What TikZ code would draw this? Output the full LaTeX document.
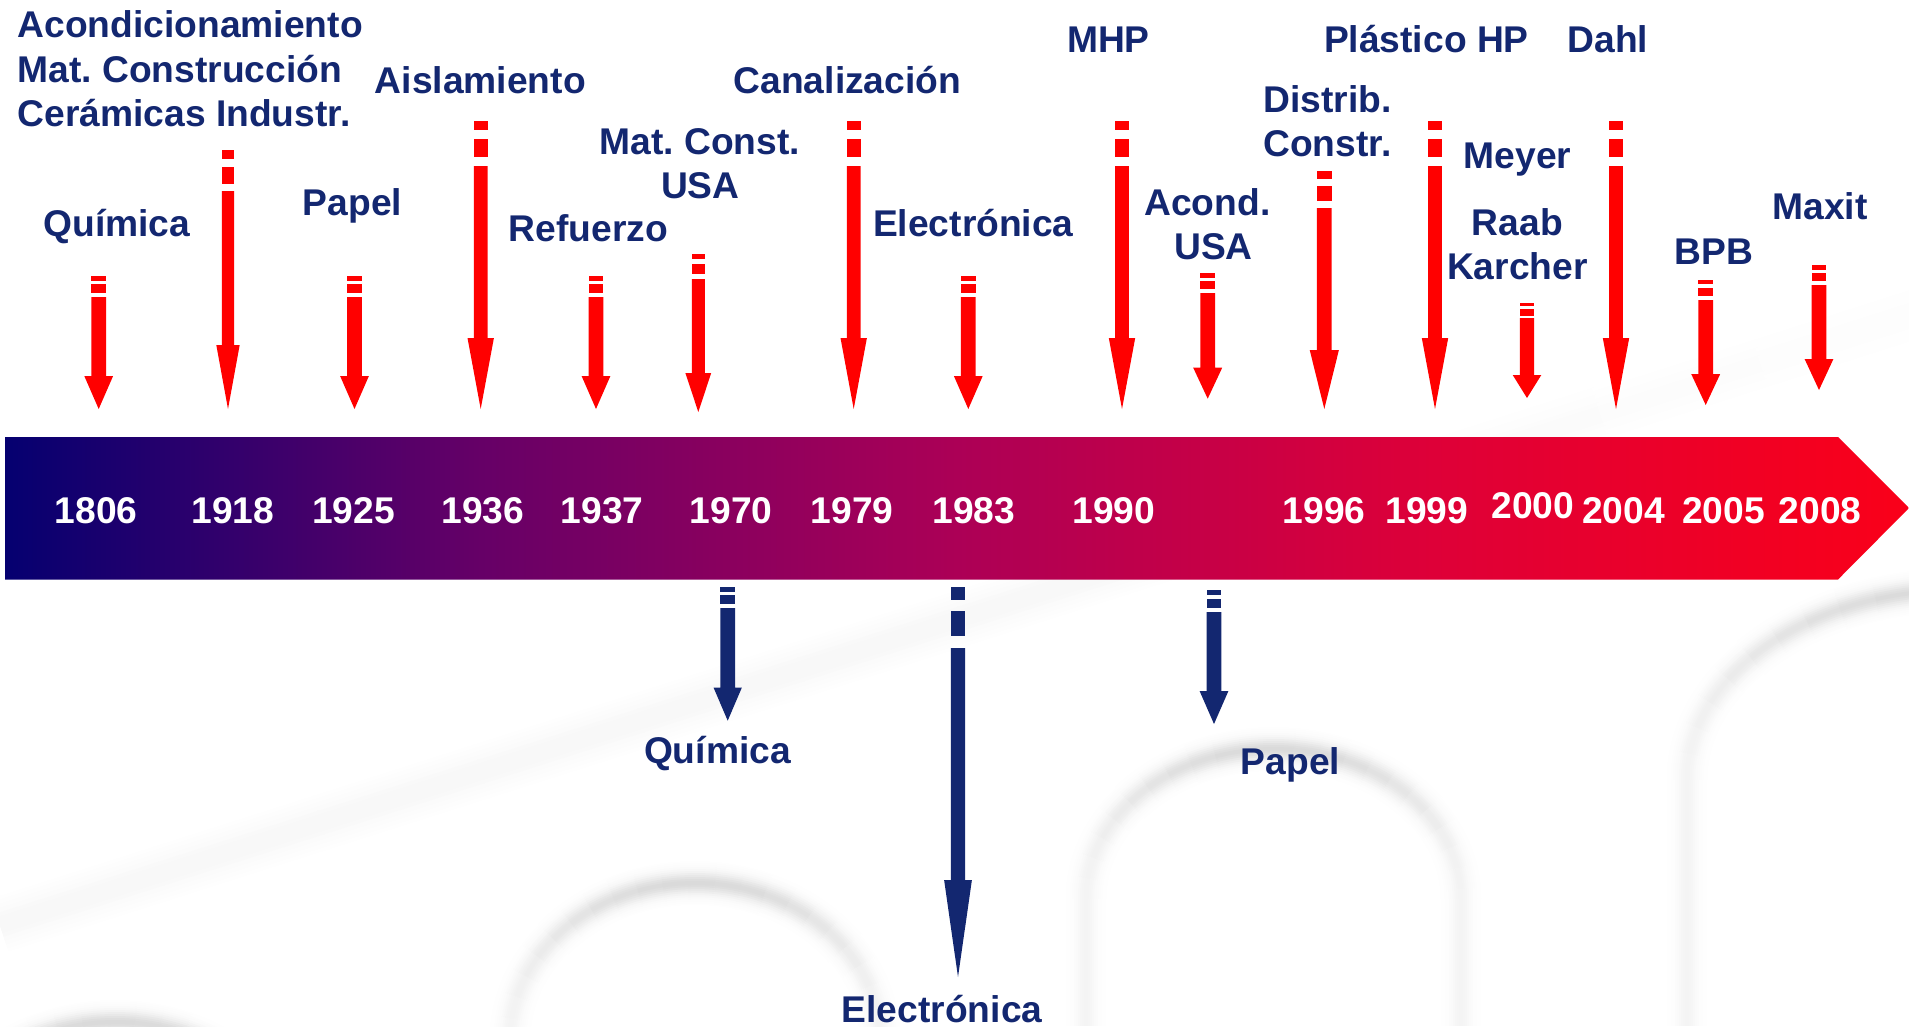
\documentclass[tikz,border=0pt]{standalone}
\usepackage{fontspec}
\setmainfont{Liberation Sans}
\frenchspacing
\definecolor{navy}{RGB}{19,39,112}
\definecolor{arrowred}{RGB}{255,0,0}
\definecolor{barA}{RGB}{5,0,112}
\definecolor{barB}{RGB}{102,0,103}
\definecolor{barC}{RGB}{172,0,86}
\definecolor{barD}{RGB}{222,0,56}
\definecolor{barE}{RGB}{250,0,25}
\pgfdeclarehorizontalshading{barshade}{100bp}{%
  color(0bp)=(barA);
  color(25bp)=(barA);
  color(37.5bp)=(barB);
  color(50bp)=(barC);
  color(62.5bp)=(barD);
  color(75bp)=(barE);
  color(100bp)=(barE)}
\tikzset{
  lab/.style={inner sep=0pt,anchor=base,align=center,text=navy,yshift=-0.8pt,xshift=0.4pt,
    font=\bfseries\fontsize{37.2}{44.7}\selectfont},
  yearlab/.style={inner sep=0pt,anchor=base,text=white,xshift=0.7pt,yshift=-0.5pt,
    font=\bfseries\fontsize{37.2}{44.7}\selectfont},
  softline/.style={line cap=butt}
}
\newcommand{\softarc}[4]{%
  \foreach \wd in {44,40,...,4}{%
    \pgfmathsetmacro{\pk}{exp(-(\wd/2)^2/128)}%
    \foreach \ii in {0,...,22}{%
      \pgfmathsetmacro{\th}{180+8*\ii}%
      \pgfmathsetmacro{\fd}{0.3+0.7*sin(\th+4)^2}%
      \pgfmathsetmacro{\pc}{15*\pk*\fd}%
      \draw[softline,draw=black!\pc,line width=\wd pt]
        ({#1+#3*cos(\th)},{#2+#4*sin(\th)})
        arc[start angle=\th,end angle={\th+8.5},x radius=#3,y radius=#4];
    }}}
\newcommand{\softleg}[3]{%
  \foreach \wd in {44,40,...,4}{%
    \pgfmathsetmacro{\pc}{15*0.3*exp(-(\wd/2)^2/128)}%
    \draw[softline,draw=black!\pc,line width=\wd pt] (#1,#2) -- (#1,#3);
  }}
\begin{document}
\begin{tikzpicture}[x=1pt,y=-1pt]
\useasboundingbox (0,0) rectangle (1909,1026);
% background watermark
\begin{scope}
\clip (0,0) rectangle (1909,1026);
\foreach \wd/\pc in {56/0.4,48/0.8,40/1.2,32/1.7,24/2.2,16/2.8}{%
  \foreach \ii in {0,...,11}{%
    \pgfmathsetmacro{\xa}{160*\ii}%
    \pgfmathsetmacro{\xb}{160*\ii+162}%
    \pgfmathsetmacro{\ya}{925-0.319*\xa}%
    \pgfmathsetmacro{\yb}{925-0.319*\xb}%
    \pgfmathsetmacro{\fd}{\xa<1000?1:max(0.3,1-(\xa-1000)/1000)}%
    \pgfmathsetmacro{\pp}{\pc*\fd}%
    \draw[softline,draw=black!\pp,line width=\wd pt] (\xa,\ya) -- (\xb,\yb);
  }}
\softarc{1273.5}{899}{187.5}{150}
\softleg{1086}{899}{1026}
\softleg{1461}{899}{1026}
\softarc{695}{1040}{185}{157}
\softarc{115}{1177}{185}{155}
\softarc{1960}{780}{273}{190}
\softleg{1687}{780}{1026}
\end{scope}
% timeline bar
\shade[shading=barshade] (5.2,437) -- (1838,437) -- (1909,508) -- (1838,579.5) -- (5.2,579.5) -- cycle;
% arrows: x / seg1 top / seg1 bottom / seg2 top / seg2 bottom / shaft top / head top / tip / half shaft / half head
\foreach \x/\a/\b/\c/\d/\e/\h/\t/\s/\w/\col in {
  98.7/276/281/284/293/297/376/409/7.4/14.4/arrowred,
  228/150/159/167/184/191/345/409/6.1/11.7/arrowred,
  354.5/276/281/284/293/297/376/409/7.4/14.4/arrowred,
  480.7/121/130/139/157/166/338/409/6.8/13.2/arrowred,
  596/276/281/284/293/297/376/409/7.4/14.4/arrowred,
  698.3/254/259/264/274/279/373/412/6.5/12.9/arrowred,
  853.7/121/130/139/157/166/338/409/6.8/13.2/arrowred,
  968.3/276/281/284/293/297/376/409/7.4/14.4/arrowred,
  1122/121/130/139/157/166/338/409/6.8/13.2/arrowred,
  1207.7/273/278/281/289/293/367.7/398.7/7.4/14.5/arrowred,
  1324.3/171/179/186/201/208/350/409/7.4/14.6/arrowred,
  1435/121/130/139/157/166/338/409/6.8/13.2/arrowred,
  1527/303/306/309/316/318/375/398/7.2/14.3/arrowred,
  1616/121/130/139/157/166/338/409/6.8/13.2/arrowred,
  1705.7/280/284/288/296/300/374/405/7.4/14.5/arrowred,
  1819/265/270/273/281/285/359/390/7.4/14.4/arrowred,
  727.7/587/592/595/604/608/687.7/720.7/7.4/14.1/navy,
  958/587/600/611/636/648/880/977/7.2/13.9/navy,
  1214/590/595/599/608/612/691/724/7.4/14.4/navy}{%
  \fill[\col] ({\x-\s},\a) rectangle ({\x+\s},\b);
  \fill[\col] ({\x-\s},\c) rectangle ({\x+\s},\d);
  \fill[\col] ({\x-\s},\e) -- ({\x+\s},\e) -- ({\x+\s},\h) -- ({\x+\w},\h)
     -- (\x,\t) -- ({\x-\w},\h) -- ({\x-\s},\h) -- cycle;
}
% year labels
\foreach \nm/\x/\y in {1806/95.5/522.7,1918/232/522.7,1925/352.7/522.7,1936/482/522.7,
  1937/601.5/522.7,1970/730.5/522.7,1979/851.6/522.7,1983/973/522.7,1990/1113/522.7,
  1996/1323.5/522.7,1999/1426/522.7,2000/1532/517.7,2004/1622.8/522.7,2005/1722.7/522.7,
  2008/1819.5/522.7}{%
  \node[yearlab] (y\nm) at (\x,\y) {\nm};
}
% upper labels
\node[lab,align=left,anchor=base west] (acond) at (17,126) {Acondicionamiento\\Mat. Construcción\\Cerámicas Industr.};
\node[lab] (quim) at (116.5,236) {Química};
\node[lab] (papel) at (352,215) {Papel};
\node[lab] (aisl) at (480,92.5) {Aislamiento};
\node[lab] (refu) at (588,241) {Refuerzo};
\node[lab] (matc) at (699.5,198) {Mat. Const.\\\hspace*{1pt}USA};
\node[lab] (cana) at (847,92.5) {Canalización};
\node[lab] (elec) at (973,236) {Electrónica};
\node[lab] (mhp) at (1108,52) {MHP};
\node[lab] (acus) at (1207,259) {Acond.\\\hspace*{12pt}USA};
\node[lab] (dist) at (1327,156) {Distrib.\\Constr.};
\node[lab] (plas) at (1426,52) {Plástico HP};
\node[lab] (dahl) at (1607.5,52) {Dahl};
\node[lab] (meye) at (1517,168) {Meyer};
\node[lab] (raab) at (1517,279) {Raab\\Karcher};
\node[lab] (bpb) at (1713.5,264) {BPB};
\node[lab] (maxi) at (1819.7,219) {Maxit};
% lower labels
\node[lab] (quil) at (717,762.7) {Química};
\node[lab] (papl) at (1290,774) {Papel};
\node[lab] (elel) at (941.7,1021.7) {Electrónica};
\end{tikzpicture}
\end{document}
